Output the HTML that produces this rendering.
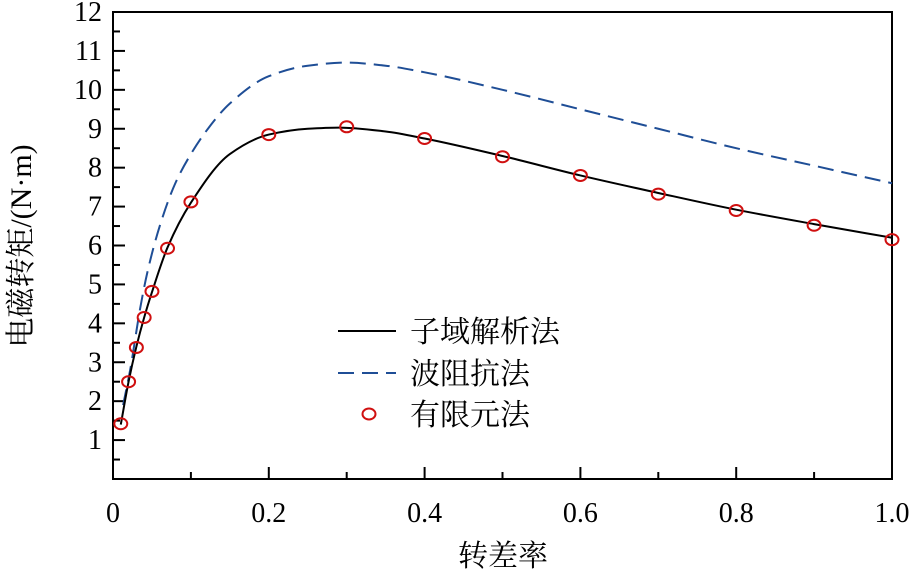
<!DOCTYPE html>
<html><head><meta charset="utf-8"><style>
body{margin:0;background:#fff}
svg text{font-family:"Liberation Serif","Noto Serif CJK SC",serif;fill:#000}
</style></head><body>
<svg id="c" width="913" height="579"></svg>
<script>
const xTicks=[0,0.2,0.4,0.6,0.8,1.0];
const xTickLabels=["0","0.2","0.4","0.6","0.8","1.0"];
const yTicks=[1,2,3,4,5,6,7,8,9,10,11,12];
const analyticX=[0.01,0.02,0.03,0.04,0.05,0.07,0.1,0.15,0.2,0.25,0.29,0.35,0.4,0.5,0.6,0.7,0.8,0.9,1.0];
const analyticY=[1.4,2.5,3.4,4.15,4.8,5.95,7.1,8.35,8.85,9.0,9.03,8.93,8.75,8.3,7.8,7.35,6.92,6.55,6.2];
const impedX=[0.013,0.022,0.035,0.044,0.06,0.08,0.1,0.12,0.15,0.2,0.25,0.3,0.35,0.4,0.5,0.6,0.7,0.8,0.9,1.0];
const impedY=[1.9,2.8,4.4,5.3,6.5,7.6,8.35,8.95,9.65,10.35,10.62,10.7,10.62,10.45,10.0,9.5,9.0,8.5,8.05,7.6];
const femX=[0.01,0.02,0.03,0.04,0.05,0.07,0.1,0.2,0.3,0.4,0.5,0.6,0.7,0.8,0.9,1.0];
const femY=[1.42,2.5,3.38,4.15,4.82,5.93,7.12,8.85,9.05,8.75,8.28,7.8,7.32,6.9,6.52,6.15];
const X0=113,X1=892,Y0=479,Y1=12;
const sx=v=>X0+v*(X1-X0);
const sy=v=>Y0-v*(Y0-Y1)/12;
const svg=document.getElementById('c');
const NS='http://www.w3.org/2000/svg';
function mk(t,a,p){const e=document.createElementNS(NS,t);for(const k in a)e.setAttribute(k,a[k]);(p||svg).appendChild(e);return e;}
function smooth(xs,ys){const n=xs.length,d=[],m=[];
for(let i=0;i<n-1;i++)d.push((ys[i+1]-ys[i])/(xs[i+1]-xs[i]));
for(let i=0;i<n;i++){if(i===0)m.push(d[0]);else if(i===n-1)m.push(d[n-2]);
else if(d[i-1]*d[i]<=0)m.push(0);else{const h0=xs[i]-xs[i-1],h1=xs[i+1]-xs[i];
const w1=2*h1+h0,w2=h1+2*h0;m.push((w1+w2)/(w1/d[i-1]+w2/d[i]));}}
let p=`M${sx(xs[0])},${sy(ys[0])}`;
for(let i=0;i<n-1;i++){const h=xs[i+1]-xs[i];
p+=` C${sx(xs[i]+h/3)},${sy(ys[i]+m[i]*h/3)} ${sx(xs[i+1]-h/3)},${sy(ys[i+1]-m[i+1]*h/3)} ${sx(xs[i+1])},${sy(ys[i+1])}`;}
return p;}
let e;
e=mk('rect',{x:X0,y:Y1,width:X1-X0,height:Y0-Y1,fill:'none',stroke:'#000','stroke-width':2});

for(let k=1;k<10;k++){const v=k/10,big=k%2===0;
e=mk('line',{x1:sx(v),x2:sx(v),y1:Y0,y2:Y0-(big?12:7),stroke:'#000','stroke-width':2});
}
xTicks.forEach((v,i)=>{e=mk('text',{x:sx(v),y:522,'text-anchor':'middle','font-size':28});e.textContent=xTickLabels[i];
});
for(let v=0.5;v<12;v+=0.5){const big=v%1===0;
e=mk('line',{x1:X0,x2:X0+(big?12:7),y1:sy(v),y2:sy(v),stroke:'#000','stroke-width':2});
}
yTicks.forEach(v=>{e=mk('text',{x:102,y:sy(v)+9,'text-anchor':'end','font-size':28});e.textContent=String(v);
});
e=mk('path',{d:smooth(impedX,impedY),fill:'none',stroke:'#1f4e96','stroke-width':2,'stroke-dasharray':'16,8'});

e=mk('path',{d:smooth(analyticX,analyticY),fill:'none',stroke:'#000','stroke-width':2});

femX.forEach((x,i)=>{e=mk('ellipse',{cx:sx(x),cy:sy(femY[i]),rx:6.5,ry:5.5,fill:'none',stroke:'#d01010','stroke-width':2});
});
const leg=mk('g',{});
e=mk('line',{x1:338,x2:396,y1:331,y2:331,stroke:'#000','stroke-width':2},leg);

e=mk('line',{x1:338,x2:396,y1:373,y2:373,stroke:'#1f4e96','stroke-width':2,'stroke-dasharray':'16,8'},leg);

e=mk('ellipse',{cx:369,cy:414,rx:6.5,ry:5.5,fill:'none',stroke:'#d01010','stroke-width':2},leg);

[["子域解析法",342],["波阻抗法",384],["有限元法",425]].forEach(([t,y])=>{e=mk('text',{x:410,y:y,'font-size':30},leg);e.textContent=t;
});
e=mk('text',{x:503,y:566,'text-anchor':'middle','font-size':30});e.textContent='转差率';

e=mk('text',{x:0,y:0,'text-anchor':'middle','font-size':30,transform:'translate(31,246) rotate(-90)'});e.textContent='电磁转矩/(N·m)';

</script>
</body></html>
